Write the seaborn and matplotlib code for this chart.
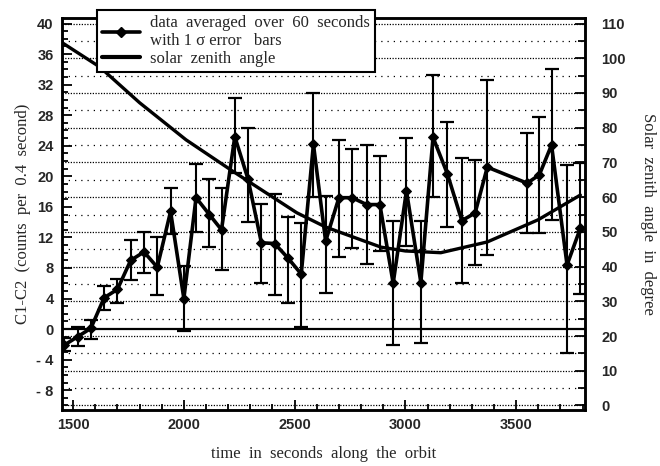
import numpy as np
import pandas as pd
import matplotlib
matplotlib.use("Agg")
import matplotlib.pyplot as plt
from matplotlib.lines import Line2D
from matplotlib.ticker import MultipleLocator, FixedLocator
import seaborn as sns

# 60 s averages of C1-C2 (counts per 0.4 s) with 1 sigma bars
time_s = [1460, 1520, 1580, 1640, 1700, 1760, 1820, 1880, 1940, 2000,
          2055, 2115, 2170, 2230, 2290, 2350, 2410, 2470, 2530, 2585,
          2640, 2700, 2760, 2825, 2885, 2945, 3005, 3070, 3125, 3190,
          3255, 3315, 3370, 3550, 3605, 3660, 3730, 3790]
counts = [-2.1, -1.0, 0.1, 4.1, 5.2, 9.0, 10.1, 8.1, 15.4, 4.0,
          17.2, 15.0, 13.0, 25.2, 19.6, 11.3, 11.2, 9.3, 7.2, 24.2,
          11.5, 17.2, 17.2, 16.3, 16.3, 6.0, 18.1, 6.1, 25.1, 20.3,
          14.2, 15.2, 21.2, 19.1, 20.2, 24.1, 8.4, 13.2]
err_low = [-2.9, -2.2, -1.3, 2.5, 3.4, 6.4, 7.3, 4.5, 12.5, -0.3,
           12.7, 10.8, 7.7, 20.4, 14.0, 6.0, 4.5, 3.4, 0.3, 17.3,
           4.7, 9.5, 10.6, 8.5, 10.2, -2.1, 10.9, -1.8, 17.3, 13.4,
           6.0, 8.4, 9.7, 12.6, 12.6, 14.3, -3.1, 4.6]
err_high = [-1.2, 0.3, 1.2, 5.6, 6.6, 11.7, 12.7, 12.1, 18.5, 8.3,
            21.6, 19.6, 18.5, 30.3, 26.3, 16.4, 17.7, 14.7, 13.9, 30.9,
            17.4, 24.8, 23.6, 24.1, 22.7, 14.2, 25.0, 14.2, 33.2, 27.1,
            22.4, 22.2, 32.6, 25.7, 27.8, 34.0, 21.5, 21.7]

# solar zenith angle along the orbit (degrees)
sza_time = [1450, 1620, 1800, 2010, 2220, 2510, 2640, 2890, 3000, 3160,
            3370, 3600, 3790]
sza_deg = [104.5, 97.5, 87.2, 76.5, 67.5, 55.5, 51.4, 45.6, 44.5, 44.0,
           47.1, 53.5, 60.6]

df = pd.DataFrame({"t": time_s, "c": counts, "lo": err_low, "hi": err_high})
sza = pd.DataFrame({"t": sza_time, "deg": sza_deg})

sns.set_style("ticks")
plt.rcParams["font.family"] = ["Liberation Serif", "DejaVu Serif"]

fig, ax = plt.subplots(figsize=(6.6, 4.66), dpi=100)
fig.subplots_adjust(left=0.094, right=0.886, bottom=0.12, top=0.961)

y_lo, y_hi = -10.6, 40.7
ax.set_xlim(1450, 3810)
ax.set_ylim(y_lo, y_hi)

# dotted reference lines every 5 degrees of the right axis
for r in range(0, 115, 5):
    ls = (0, (1, 1.2)) if r % 10 == 0 else (0, (1, 4))
    ax.axhline((r - 22) / 2.2, color="black", lw=0.9, ls=ls, zorder=0)
ax.axhline(0, color="black", lw=1.6, zorder=1)

ax.errorbar(df["t"], df["c"], yerr=[df["c"] - df["lo"], df["hi"] - df["c"]],
            fmt="none", ecolor="black", elinewidth=1.5, capsize=5, capthick=1.6,
            zorder=2)
sns.lineplot(data=df, x="t", y="c", ax=ax, color="black", lw=2.6,
             marker="D", markersize=5, markeredgecolor="black", zorder=3)

ax2 = ax.twinx()
ax2.set_ylim(22 + 2.2 * y_lo, 22 + 2.2 * y_hi)
sns.lineplot(data=sza, x="t", y="deg", ax=ax2, color="black", lw=2.4)

# ticks
ax.xaxis.set_major_locator(FixedLocator([1500, 2000, 2500, 3000, 3500]))
ax.xaxis.set_minor_locator(MultipleLocator(100))
left_ticks = list(range(-8, 41, 4))
ax.yaxis.set_major_locator(FixedLocator(left_ticks))
ax.set_yticklabels([("- %d" % -v) if v < 0 else str(v) for v in left_ticks])
ax.yaxis.set_minor_locator(MultipleLocator(1))
ax2.yaxis.set_major_locator(MultipleLocator(10))
ax2.yaxis.set_minor_locator(MultipleLocator(5))

ax.tick_params(which="both", direction="in", color="black", width=1.3)
ax.tick_params(which="major", length=7, pad=6)
ax.tick_params(which="minor", length=4)
ax2.tick_params(which="both", direction="in", color="black", width=1.3)
ax2.tick_params(which="major", length=7, pad=12)
ax2.tick_params(which="minor", length=5)

for lab in ax.get_xticklabels() + ax.get_yticklabels() + ax2.get_yticklabels():
    lab.set_fontfamily("Liberation Sans")
    lab.set_fontweight("bold")
    lab.set_fontsize(10.5)

for a in (ax, ax2):
    for s in a.spines.values():
        s.set_color("black")
        s.set_linewidth(1.8)

ax.set_xlabel("time  in  seconds  along  the  orbit", fontsize=12, labelpad=10)
ax.set_ylabel("C1-C2  (counts  per  0.4  second)", fontsize=12, labelpad=4)
ax2.set_ylabel("Solar  zenith  angle  in  degree", fontsize=12, rotation=-90,
               labelpad=22)

handles = [Line2D([], [], color="black", lw=2.6, marker="D", markersize=5),
           Line2D([], [], color="black", lw=3)]
labels = ["data  averaged  over  60  seconds\nwith 1 \u03c3 error   bars",
          "solar  zenith  angle"]
leg = fig.legend(handles, labels, loc="upper left",
                 bbox_to_anchor=(97 / 660, 1 - 10 / 466), fontsize=12,
                 handlelength=2.3, frameon=True, fancybox=False,
                 borderaxespad=0, borderpad=0.3, labelspacing=0.1,
                 handletextpad=0.6)
leg.get_frame().set_edgecolor("black")
leg.get_frame().set_linewidth(1.5)
leg.get_frame().set_alpha(1)

fig.savefig("out.png", dpi=100)
